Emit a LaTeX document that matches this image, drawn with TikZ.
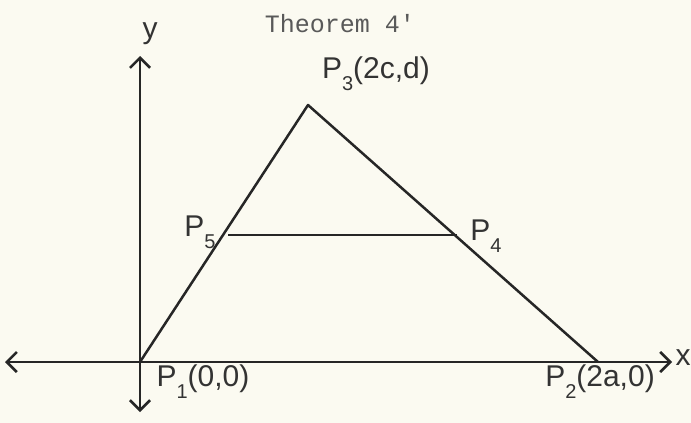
\documentclass[tikz,border=0pt]{standalone}
\usepackage{fontspec}
\setmainfont{Liberation Sans}
\newfontfamily\typew{Liberation Mono}
\usetikzlibrary{arrows.meta}
\newcommand{\lowidx}[1]{\raisebox{-0.4em}{\fontsize{20}{22}\selectfont #1}}
\begin{document}
\begin{tikzpicture}[x=1pt,y=-1pt,
  ln/.style={line width=2.5pt,black!85},
  ax/.style={line width=2.6pt,black!85,-{Straight Barb[length=10pt,width=20pt,line width=2.6pt]}},
  lbl/.style={font=\fontsize{30}{32}\selectfont,text=black!80,inner sep=0pt}]
\fill[white!96!yellow!98!black] (0,0) rectangle (691,423);
\useasboundingbox (0,0) rectangle (691,423);
\coordinate (O) at (140,362);
\coordinate (xl) at (5,362);
\coordinate (xr) at (672,362);
\coordinate (yt) at (140,56);
\coordinate (yb) at (140,412);
\draw[ax] (O) -- (xl);
\draw[ax] (O) -- (xr);
\draw[ax] (O) -- (yt);
\draw[ax] (O) -- (yb);
\coordinate (P1) at (140,362);
\coordinate (P2) at (598,362);
\coordinate (P3) at (308,105);
\coordinate (P4) at (457,235);
\coordinate (P5) at (228,235);
\draw[ln,line join=round] (P1) -- (P3) -- (P2);
\draw[ln] (P5) -- (P4);
\node[font=\typew\fontsize{25}{27}\selectfont,text=black!65] (title) at (340,24) {Theorem 4'};
\node[lbl] (ylab) at (150,34) {y};
\node[lbl] (xlab) at (683,358) {x};
\node[lbl] (l3) at (376,74) {P\lowidx{3}(2c,d)};
\node[lbl] (l4) at (486,236) {P\lowidx{4}};
\node[lbl] (l5) at (200,232) {P\lowidx{5}};
\node[lbl] (l1) at (203,382) {P\lowidx{1}(0,0)};
\node[lbl] (l2) at (600,382) {P\lowidx{2}(2a,0)};
\end{tikzpicture}
\end{document}
